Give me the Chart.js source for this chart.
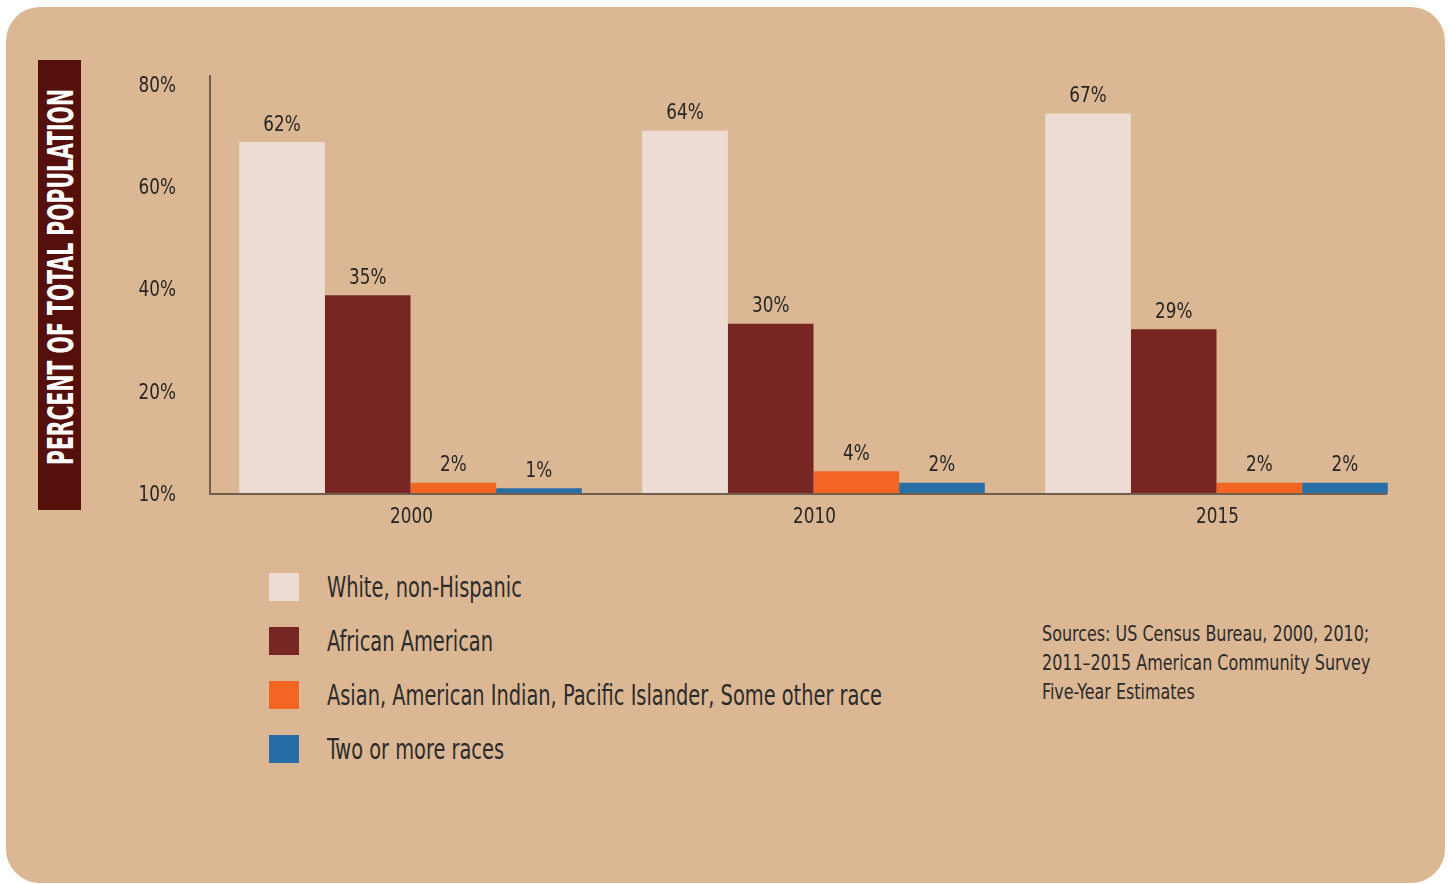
<!DOCTYPE html>
<html>
<head>
<meta charset="utf-8">
<title>Percent of total population</title>
<script src="https://cdn.jsdelivr.net/npm/chart.js@4.4.0/dist/chart.umd.min.js"></script>
<style>
  html, body { margin: 0; padding: 0; background: #fff; }
  body {
    width: 1452px; height: 884px; position: relative; overflow: hidden;
    font-family: "Liberation Sans Narrow", "DejaVu Sans Condensed", sans-serif;
    color: #2b2b2b;
  }
  #panel {
    position: absolute; left: 6px; top: 7px; width: 1439px; height: 876px;
    background: #dbb793; border-radius: 34px;
  }
  #yTitle {
    position: absolute; left: 38px; top: 60px; width: 43px; height: 450px;
    background: #56100b;
  }
  #yTitle span {
    position: absolute; left: 50%; top: 50%;
    transform: translate(-50%, -50%) translateY(-8px) rotate(-90deg) scaleX(0.63);
    white-space: nowrap; color: #fff; font-weight: bold; font-size: 36px;
  }
  #chartBox { position: absolute; left: 0; top: 0; width: 1452px; height: 540px; }
  #legend { position: absolute; left: 269px; top: 560px; }
  .item { height: 54px; display: flex; align-items: center; white-space: nowrap; }
  .item i { display: inline-block; flex: none; width: 30px; height: 28px; margin-right: 28px; }
  .item span { display: inline-block; font-size: 28px; transform: scaleX(0.77); transform-origin: left center; }
  #source {
    position: absolute; left: 1042px; top: 620px; white-space: nowrap;
    font-size: 21px; line-height: 29px;
    transform: scaleX(0.845); transform-origin: left top;
  }
</style>
</head>
<body>
<div id="panel"></div>
<div id="yTitle"><span>PERCENT OF TOTAL POPULATION</span></div>
<div id="chartBox"><canvas id="chart"></canvas></div>
<div id="legend"></div>
<div id="source">Sources: US Census Bureau, 2000, 2010;<br>2011–2015 American Community Survey<br>Five-Year Estimates</div>

<script>
// Census years and population shares (percent)
var years = ['2000', '2010', '2015'];
var groupNames = [
  'White, non-Hispanic',
  'African American',
  'Asian, American Indian, Pacific Islander, Some other race',
  'Two or more races'
];
var whiteShare = [62, 64, 67];
var africanAmericanShare = [35, 30, 29];
var asianOtherShare = [2, 4, 2];
var twoOrMoreShare = [1, 2, 2];

// Y axis ticks: positions on the value scale and the labels printed there
var tickValues = [0, 18, 36, 54, 72];
var tickLabels = ['10%', '20%', '40%', '60%', '80%'];

var groupColors = ['#ecdcd3', '#772623', '#f36523', '#266ea5'];
var shares = [whiteShare, africanAmericanShare, asianOtherShare, twoOrMoreShare];

var FONT = '"Liberation Sans Narrow", "DejaVu Sans Condensed", sans-serif';
var TEXT = '#262626';
var SQUEEZE = 0.85;   // horizontal squeeze for a narrow look

function narrowText(ctx, text, x, y, sx) {
  ctx.save();
  ctx.translate(x, y);
  ctx.scale(sx, 1);
  ctx.fillText(text, 0, 0);
  ctx.restore();
}

// percent labels above bars + axis tick labels, drawn narrow
var textLayer = {
  id: 'textLayer',
  afterDatasetsDraw: function(chart) {
    var ctx = chart.ctx;
    var xs = chart.scales.x, ys = chart.scales.y;
    ctx.save();
    ctx.font = '22px ' + FONT;
    ctx.fillStyle = TEXT;

    ctx.textAlign = 'center';
    ctx.textBaseline = 'bottom';
    chart.data.datasets.forEach(function(ds, i) {
      chart.getDatasetMeta(i).data.forEach(function(bar, j) {
        narrowText(ctx, ds.data[j] + '%', bar.x, bar.y - 6, SQUEEZE);
      });
    });

    // y tick labels
    ctx.textAlign = 'right';
    ctx.textBaseline = 'middle';
    tickValues.forEach(function(v, i) {
      narrowText(ctx, tickLabels[i], xs.left - 33, ys.getPixelForValue(v) + 1, SQUEEZE);
    });

    // x category labels
    ctx.textAlign = 'center';
    ctx.textBaseline = 'top';
    years.forEach(function(y, i) {
      narrowText(ctx, y, xs.getPixelForTick(i) + 1, ys.bottom + 12, SQUEEZE);
    });
    ctx.restore();
  }
};

// left and bottom axis lines (bottom line stops short of the last category edge)
var axisLines = {
  id: 'axisLines',
  afterDatasetsDraw: function(chart) {
    var a = chart.chartArea, ctx = chart.ctx;
    ctx.save();
    ctx.strokeStyle = '#6f5f4f';
    ctx.lineWidth = 2;
    ctx.beginPath();
    ctx.moveTo(a.left + 1, a.top);
    ctx.lineTo(a.left + 1, a.bottom);
    ctx.lineTo(a.right - 31, a.bottom);
    ctx.stroke();
    ctx.restore();
  }
};

var datasets = groupNames.map(function(name, i) {
  return {
    label: name,
    data: shares[i],
    backgroundColor: groupColors[i],
    borderWidth: 0,
    categoryPercentage: 0.85,
    barPercentage: 1.0
  };
});

new Chart(document.getElementById('chart'), {
  type: 'bar',
  data: { labels: years, datasets: datasets },
  options: {
    responsive: true,
    maintainAspectRatio: false,
    animation: false,
    layout: { padding: { left: 0, right: 34, top: 75, bottom: 0 } },
    plugins: {
      legend: { display: false },
      tooltip: { enabled: false }
    },
    scales: {
      x: {
        grid: { display: false, drawTicks: false },
        border: { display: false },
        ticks: { display: false },
        afterFit: function(s) { s.height = 46; }
      },
      y: {
        min: 0,
        max: 73.8,
        grid: { display: false, drawTicks: false },
        border: { display: false },
        afterBuildTicks: function(s) {
          s.ticks = tickValues.map(function(v) { return { value: v }; });
        },
        ticks: { display: false },
        afterFit: function(s) { s.width = 209; }
      }
    }
  },
  plugins: [textLayer, axisLines]
});

// legend list built from the same series names and colours
var legend = document.getElementById('legend');
groupNames.forEach(function(name, i) {
  var row = document.createElement('div');
  row.className = 'item';
  row.innerHTML = '<i style="background:' + groupColors[i] + '"></i><span>' + name + '</span>';
  legend.appendChild(row);
});
</script>
</body>
</html>
